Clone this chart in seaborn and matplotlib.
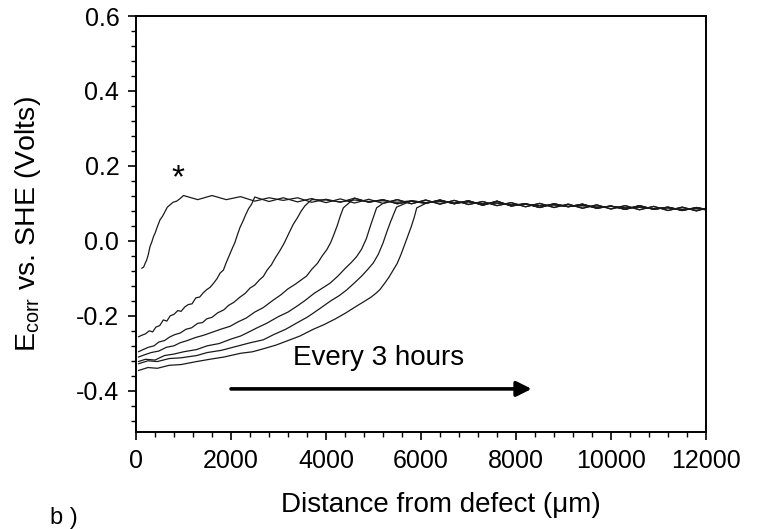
import numpy as np
import pandas as pd
import matplotlib
matplotlib.use("Agg")
import matplotlib.pyplot as plt
from matplotlib.ticker import MultipleLocator, FormatStrFormatter
import seaborn as sns

# ---------------- data ----------------
x1 = [120, 160, 200, 225, 260, 295, 330, 370, 400, 450, 505, 560, 610, 660, 716, 780, 856, 920]
y1 = [-0.073, -0.070, -0.058, -0.051, -0.036, -0.015, -0.004, 0.012, 0.020, 0.038, 0.056, 0.066,
      0.078, 0.090, 0.096, 0.103, 0.106, 0.112]

x2 = [50, 120, 200, 280, 350, 420, 500, 575, 650, 720, 800, 880, 950, 1030, 1100, 1180, 1260, 1340,
      1420, 1490, 1560, 1640, 1710, 1770, 1840, 1900, 1960, 2020, 2080, 2140, 2190, 2250, 2310, 2370, 2435]
y2 = [-0.256, -0.252, -0.248, -0.240, -0.243, -0.230, -0.226, -0.211, -0.214, -0.200, -0.196, -0.186,
      -0.188, -0.176, -0.170, -0.168, -0.152, -0.150, -0.138, -0.130, -0.124, -0.112, -0.100, -0.086,
      -0.078, -0.058, -0.040, -0.022, -0.005, 0.018, 0.036, 0.052, 0.070, 0.086, 0.098]

x3 = [50, 150, 260, 380, 480, 600, 716, 820, 930, 1050, 1170, 1300, 1400, 1490, 1600, 1720, 1850, 1950,
      2060, 2190, 2300, 2400, 2500, 2600, 2680, 2760, 2850, 2930, 3030, 3120, 3210, 3310, 3400, 3480, 3560]
y3 = [-0.296, -0.290, -0.284, -0.280, -0.270, -0.266, -0.256, -0.250, -0.246, -0.236, -0.232, -0.220,
      -0.218, -0.208, -0.204, -0.192, -0.184, -0.172, -0.164, -0.150, -0.140, -0.126, -0.118, -0.104,
      -0.095, -0.078, -0.064, -0.046, -0.026, -0.006, 0.018, 0.044, 0.062, 0.080, 0.094]

x4 = [50, 180, 320, 480, 640, 800, 926, 1080, 1250, 1420, 1600, 1780, 1980, 2150, 2320, 2500, 2680, 2890,
      3050, 3200, 3350, 3480, 3590, 3700, 3820, 3920, 4015, 4100, 4170, 4240, 4300, 4365]
y4 = [-0.310, -0.304, -0.298, -0.294, -0.284, -0.280, -0.272, -0.266, -0.258, -0.252, -0.244, -0.236,
      -0.228, -0.216, -0.206, -0.190, -0.178, -0.158, -0.144, -0.128, -0.116, -0.104, -0.094, -0.076,
      -0.060, -0.040, -0.024, -0.004, 0.018, 0.042, 0.066, 0.088]

x5 = [50, 200, 400, 600, 800, 1000, 1277, 1500, 1750, 2000, 2200, 2330, 2550, 2750, 3000, 3200, 3380,
      3550, 3750, 3900, 4085, 4250, 4400, 4530, 4645, 4750, 4850, 4925, 5000, 5065]
y5 = [-0.322, -0.316, -0.318, -0.306, -0.302, -0.296, -0.290, -0.280, -0.274, -0.262, -0.254, -0.246,
      -0.232, -0.220, -0.202, -0.190, -0.175, -0.160, -0.140, -0.128, -0.113, -0.094, -0.074, -0.058,
      -0.042, -0.022, 0.006, 0.036, 0.064, 0.088]

x6 = [50, 250, 450, 700, 950, 1277, 1500, 1800, 2100, 2400, 2680, 2900, 3150, 3400, 3600, 3730, 3900,
      4100, 4280, 4435, 4600, 4750, 4880, 4995, 5100, 5200, 5275, 5350, 5420, 5485]
y6 = [-0.328, -0.320, -0.322, -0.314, -0.312, -0.306, -0.298, -0.292, -0.282, -0.272, -0.264, -0.250,
      -0.236, -0.218, -0.204, -0.193, -0.178, -0.160, -0.146, -0.131, -0.112, -0.094, -0.076, -0.059,
      -0.036, -0.006, 0.022, 0.048, 0.070, 0.090]

x7 = [50, 250, 450, 700, 950, 1277, 1550, 1850, 2200, 2450, 2680, 2950, 3200, 3450, 3730, 3950, 4200,
      4420, 4645, 4800, 4950, 5050, 5135, 5230, 5320, 5415, 5500, 5580, 5650, 5720, 5800, 5860, 5910]
y7 = [-0.346, -0.338, -0.340, -0.332, -0.330, -0.322, -0.316, -0.310, -0.300, -0.296, -0.288, -0.278,
      -0.266, -0.254, -0.236, -0.224, -0.208, -0.192, -0.174, -0.162, -0.150, -0.140, -0.130, -0.114,
      -0.098, -0.078, -0.060, -0.036, -0.012, 0.012, 0.040, 0.064, 0.088]

# common plateau after each curve has recovered (three noisy traces)
plateau_x = [1000, 1300, 1600, 1900, 2200, 2500, 2800, 3100, 3400, 3700, 4000, 4300, 4600, 4900,
             5200, 5500, 5800, 6100, 6400, 6700, 7000, 7300, 7600, 7900, 8200, 8500, 8800, 9100,
             9400, 9700, 10000, 10300, 10600, 10900, 11200, 11500, 11800, 12000]
plateau_a = [0.121, 0.110, 0.121, 0.110, 0.118, 0.106, 0.115, 0.108, 0.115, 0.103, 0.111, 0.103,
             0.114, 0.103, 0.110, 0.099, 0.106, 0.100, 0.109, 0.099, 0.107, 0.095, 0.106, 0.093,
             0.099, 0.089, 0.099, 0.091, 0.098, 0.087, 0.093, 0.084, 0.094, 0.084, 0.090, 0.081,
             0.089, 0.084]
plateau_b = [0.109, 0.119, 0.108, 0.117, 0.107, 0.117, 0.105, 0.115, 0.104, 0.113, 0.102, 0.112,
             0.101, 0.111, 0.100, 0.110, 0.099, 0.109, 0.098, 0.108, 0.097, 0.105, 0.094, 0.102,
             0.091, 0.100, 0.089, 0.098, 0.087, 0.096, 0.085, 0.094, 0.083, 0.092, 0.081, 0.090,
             0.080, 0.087]
plateau_c = [0.116, 0.113, 0.117, 0.112, 0.114, 0.113, 0.108, 0.112, 0.106, 0.110, 0.109, 0.104,
             0.109, 0.105, 0.107, 0.103, 0.107, 0.102, 0.105, 0.101, 0.104, 0.099, 0.101, 0.096,
             0.098, 0.094, 0.096, 0.092, 0.094, 0.090, 0.092, 0.088, 0.090, 0.086, 0.088, 0.084,
             0.086, 0.083]

curves = [(x1, y1, plateau_a), (x2, y2, plateau_b), (x3, y3, plateau_c), (x4, y4, plateau_a),
          (x5, y5, plateau_b), (x6, y6, plateau_c), (x7, y7, plateau_a)]

x_ticks = [0, 2000, 4000, 6000, 8000, 10000, 12000]
y_ticks = [-0.4, -0.2, 0.0, 0.2, 0.4, 0.6]

# ---------------- build long table ----------------
rows = []
for i, (xs, ys, plat) in enumerate(curves):
    for xv, yv in zip(xs, ys):
        rows.append((i, xv, yv))
    for xv, yv in zip(plateau_x, plat):
        if xv > xs[-1] + 60:
            rows.append((i, xv, yv))
df = pd.DataFrame(rows, columns=["curve", "distance", "ecorr"])

# ---------------- styling ----------------
sns.set_theme(style="ticks")
plt.rcParams["font.family"] = ["Liberation Sans", "DejaVu Sans"]
plt.rcParams["mathtext.fontset"] = "custom"
plt.rcParams["mathtext.rm"] = "Liberation Sans"
plt.rcParams["mathtext.it"] = "Liberation Sans"
plt.rcParams["axes.unicode_minus"] = False

fig = plt.figure(figsize=(7.6, 5.29), dpi=100)
ax = fig.add_axes([136 / 760, 1 - 432 / 529, 570 / 760, 416 / 529])

sns.lineplot(data=df, x="distance", y="ecorr", hue="curve", units="curve", estimator=None,
             sort=False, palette=["#1a1a1a"] * len(curves), legend=False, linewidth=0.9, ax=ax)

ax.set_xlim(0, 12000)
ax.set_ylim(-0.51, 0.6)
ax.set_xticks(x_ticks)
ax.set_yticks(y_ticks)
ax.xaxis.set_minor_locator(MultipleLocator(400))
ax.yaxis.set_minor_locator(MultipleLocator(0.04))
ax.yaxis.set_major_formatter(FormatStrFormatter("%.1f"))

for s in ax.spines.values():
    s.set_linewidth(1.4)
    s.set_color("black")
    s.set_visible(True)

ax.tick_params(which="major", direction="out", length=6, width=1.2, labelsize=18, pad=6,
               colors="black")
ax.tick_params(which="minor", direction="out", length=3.5, width=1.0, colors="black")

ax.set_xlabel("Distance from defect (\u03bcm)", fontsize=20, color="black")
ax.set_ylabel(r"E$_{\mathrm{corr}}$ vs. SHE (Volts)", fontsize=20.5, color="black")
ax.xaxis.set_label_coords(0.535, -0.145)
ax.yaxis.set_label_coords(-0.163, 0.5)

ax.text(880, 0.165, "*", fontsize=24, ha="center", va="center", color="black")
ax.text(5115, -0.3325, "Every 3 hours", fontsize=20, ha="center", va="baseline", color="black")
ax.annotate("", xy=(8330, -0.395), xytext=(2000, -0.395),
            arrowprops=dict(arrowstyle="-|>,head_length=0.9,head_width=0.45", mutation_scale=10,
                            lw=2.6, fc="black", ec="black", shrinkA=0, shrinkB=0))

fig.text(50 / 760, 1 - 507 / 529, "b )", fontsize=17, ha="left", va="top", color="black")

fig.savefig("out.png", dpi=100, facecolor="white")
